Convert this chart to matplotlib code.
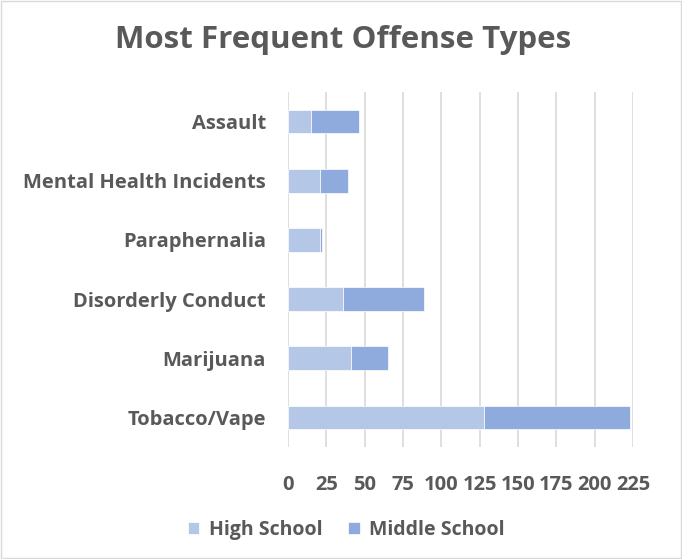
import numpy as np
import matplotlib.pyplot as plt
from matplotlib.patches import Rectangle

categories = ["Tobacco/Vape", "Marijuana", "Disorderly Conduct",
              "Paraphernalia", "Mental Health Incidents", "Assault"]
high_school = [128, 41, 36, 21, 21, 15]
middle_school = [95, 24, 53, 1, 18, 31]
ticks = [0, 25, 50, 75, 100, 125, 150, 175, 200, 225]

hs_color = "#B4C7E7"
ms_color = "#8FAADC"
text_color = "#595959"
plt.rcParams['font.family'] = ['Open Sans', 'DejaVu Sans']

fig = plt.figure(figsize=(6.82, 5.59), dpi=100)
ax = fig.add_axes([288 / 682, 1 - 447 / 559, 345 / 682, 355 / 559])

y = np.arange(len(categories))
ax.barh(y, high_school, height=0.4, color=hs_color, label="High School",
        edgecolor="white", linewidth=0.5, zorder=3)
ax.barh(y, middle_school, left=high_school, height=0.4, color=ms_color,
        label="Middle School", edgecolor="white", linewidth=0.5, zorder=3)

ax.set_xlim(0, 225)
ax.set_ylim(-0.5, 5.5)
ax.set_xticks(ticks)
ax.set_xticklabels([str(t) for t in ticks])
ax.set_yticks(y)
ax.set_yticklabels(categories)
ax.grid(axis="x", color="#D9D9D9", linewidth=1.2, zorder=0)
ax.tick_params(length=0, labelsize=14.5, labelcolor=text_color)
ax.tick_params(axis="x", pad=20)
ax.tick_params(axis="y", pad=16)
for lbl in ax.get_xticklabels() + ax.get_yticklabels():
    lbl.set_fontweight("bold")
for s in ax.spines.values():
    s.set_visible(False)

fig.text(0.503, 1 - 40 / 559, "Most Frequent Offense Types", ha="center",
         va="center", fontsize=22.5, fontweight="bold", color=text_color)

fig.legend(loc="center", bbox_to_anchor=(0.508, 1 - 530 / 559), ncol=2,
           frameon=False, handlelength=0.6, handleheight=0.6,
           columnspacing=1.3, handletextpad=0.5,
           prop={"weight": "bold", "size": 14})
for t in fig.legends[0].get_texts():
    t.set_color(text_color)

fig.patches.append(Rectangle((0.002, 0.002), 0.996, 0.996, transform=fig.transFigure,
                             fill=False, edgecolor="#D9D9D9", linewidth=1))

fig.savefig("out.png", dpi=100)
